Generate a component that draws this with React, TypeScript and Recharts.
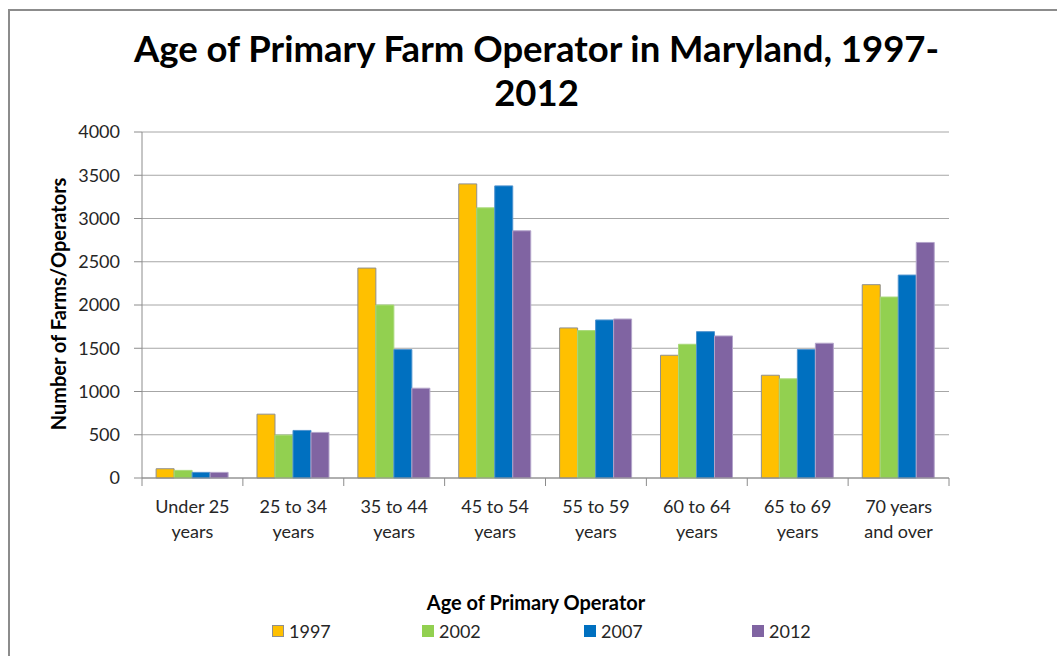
import React from "react";
import { BarChart, Bar, XAxis, YAxis, CartesianGrid, Legend, Label } from "recharts";

const categories = [
  "Under 25 years",
  "25 to 34 years",
  "35 to 44 years",
  "45 to 54 years",
  "55 to 59 years",
  "60 to 64 years",
  "65 to 69 years",
  "70 years and over",
];
const tickLines: string[][] = [
  ["Under 25", "years"],
  ["25 to 34", "years"],
  ["35 to 44", "years"],
  ["45 to 54", "years"],
  ["55 to 59", "years"],
  ["60 to 64", "years"],
  ["65 to 69", "years"],
  ["70 years", "and over"],
];
const values1997 = [107, 738, 2427, 3400, 1735, 1419, 1188, 2235];
const values2002 = [88, 496, 2000, 3123, 1704, 1546, 1146, 2092];
const values2007 = [65, 550, 1485, 3377, 1827, 1692, 1485, 2346];
const values2012 = [65, 527, 1038, 2858, 1838, 1642, 1558, 2723];
const yTicks = [0, 500, 1000, 1500, 2000, 2500, 3000, 3500, 4000];

const seriesNames = ["1997", "2002", "2007", "2012"];
const seriesColors = ["#FFC000", "#92D050", "#0070C0", "#8064A2"];
const seriesStrokes = ["#8f8f8f", "#a9d97a", "#4f93cf", "#b3a4ca"];
const legendLefts = [272, 422, 584, 752];

const data = categories.map((c, i) => ({
  category: c,
  "1997": values1997[i],
  "2002": values2002[i],
  "2007": values2007[i],
  "2012": values2012[i],
}));

const W = 1057;
const H = 656;
const MARGIN = { top: 132, right: 108, left: 0, bottom: 14 };
const Y_AXIS_W = 142;
const PLOT_W = W - MARGIN.left - MARGIN.right - Y_AXIS_W;
const FONT = "Lato, 'Open Sans', sans-serif";
const AXIS_COLOR = "#8c8c8c";

const XTick = (props: any) => {
  const { x, y, payload } = props;
  const idx = categories.indexOf(payload.value);
  const lines = tickLines[idx] || [payload.value];
  const band = PLOT_W / categories.length;
  return (
    <g>
      <line x1={x - band / 2} x2={x - band / 2} y1={y} y2={y + 8} stroke={AXIS_COLOR} strokeWidth={1} />
      {idx === categories.length - 1 && (
        <line x1={x + band / 2} x2={x + band / 2} y1={y} y2={y + 8} stroke={AXIS_COLOR} strokeWidth={1} />
      )}
      <text x={x} y={y + 35} textAnchor="middle" fontFamily={FONT} fontSize={18} fill="#262626">
        <tspan x={x} dy={0}>{lines[0]}</tspan>
        {lines[1] && (
          <tspan x={x} dy={25}>{lines[1]}</tspan>
        )}
      </text>
    </g>
  );
};

const renderLegend = () => (
  <div
    style={{
      position: "relative",
      height: 22,
      fontFamily: FONT,
      fontSize: 18,
      color: "#262626",
    }}
  >
    {seriesNames.map((n, i) => (
      <div
        key={n}
        style={{ position: "absolute", left: legendLefts[i], top: 0, height: 22, display: "flex", alignItems: "center" }}
      >
        <span
          style={{
            display: "inline-block",
            width: 10,
            height: 10,
            background: seriesColors[i],
            border: `1px solid ${i === 0 ? "#8f8f8f" : seriesColors[i]}`,
            marginRight: 5,
          }}
        />
        <span>{n}</span>
      </div>
    ))}
  </div>
);

const YLabel = (props: any) => {
  const { viewBox } = props;
  const cx = 58;
  const cy = viewBox.y + viewBox.height / 2 - 1;
  return (
    <text
      x={cx}
      y={cy}
      transform={`rotate(-90, ${cx}, ${cy})`}
      textAnchor="middle"
      dominantBaseline="central"
      fontFamily={FONT}
      fontWeight="bold"
      fontSize={20}
      fill="#000"
    >
      Number of Farms/Operators
    </text>
  );
};

const XLabel = (props: any) => {
  const { viewBox } = props;
  const cx = 536;
  const cy = viewBox.y + viewBox.height - 10;
  return (
    <text x={cx} y={cy} textAnchor="middle" fontFamily={FONT} fontWeight="bold" fontSize={20} fill="#000">
      Age of Primary Operator
    </text>
  );
};

export default function App() {
  return (
    <div style={{ position: "absolute", left: 0, top: 0, width: W, height: H, overflow: "hidden", background: "#fff" }}>
      <div
        style={{
          position: "absolute",
          left: 8,
          top: 9,
          width: 1200,
          height: 800,
          borderTop: `2px solid ${AXIS_COLOR}`,
          borderLeft: `2px solid ${AXIS_COLOR}`,
        }}
      />
      <div
        style={{
          position: "absolute",
          left: 0,
          top: 26,
          width: 1073,
          textAlign: "center",
          fontFamily: FONT,
          fontWeight: "bold",
          fontSize: 36.5,
          lineHeight: "44px",
          color: "#000",
        }}
      >
        Age of Primary Farm Operator in Maryland, 1997-
        <br />
        2012
      </div>
      <div style={{ position: "absolute", left: 0, top: 0 }}>
        <BarChart
          width={W}
          height={H}
          data={data}
          margin={MARGIN}
          barCategoryGap="14%"
          barGap={0}
        >
          <CartesianGrid vertical={false} stroke="#a6a6a6" strokeWidth={1} />
          <XAxis
            dataKey="category"
            height={142}
            interval={0}
            tickLine={false}
            tickSize={0}
            tickMargin={0}
            axisLine={{ stroke: AXIS_COLOR, strokeWidth: 1 }}
            tick={<XTick />}
          >
            <Label content={<XLabel />} />
          </XAxis>
          <YAxis
            width={Y_AXIS_W}
            domain={[0, 4000]}
            ticks={yTicks}
            interval={0}
            tickSize={8}
            tickMargin={14}
            axisLine={{ stroke: AXIS_COLOR, strokeWidth: 1 }}
            tickLine={{ stroke: AXIS_COLOR, strokeWidth: 1 }}
            tick={{ fontFamily: FONT, fontSize: 18, fill: "#262626" }}
          >
            <Label content={<YLabel />} />
          </YAxis>
          <Legend verticalAlign="bottom" content={renderLegend} wrapperStyle={{ left: 0, width: W }} />
          {seriesNames.map((n, i) => (
            <Bar
              key={n}
              dataKey={n}
              fill={seriesColors[i]}
              stroke={seriesStrokes[i]}
              strokeWidth={1}
              isAnimationActive={false}
            />
          ))}
        </BarChart>
      </div>
    </div>
  );
}
